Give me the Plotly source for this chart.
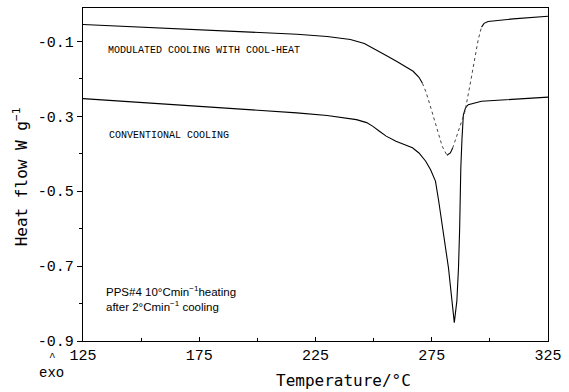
import plotly.graph_objects as go

# Modulated cooling with cool-heat (upper curve)
mod_T = [125, 150, 175, 200, 217, 230, 240, 246, 251, 256, 260, 264, 267, 269.5, 271,
         272.5, 274, 276, 278, 279.5, 281.5, 283, 284, 285, 287, 289.3, 291.5, 293.6, 295,
         296.4, 297.5, 299.2, 310, 325]
mod_Q = [-0.055, -0.062, -0.068, -0.075, -0.081, -0.087, -0.095, -0.106, -0.122, -0.140,
         -0.154, -0.168, -0.180, -0.196, -0.212, -0.235, -0.265, -0.305, -0.349, -0.380,
         -0.404, -0.398, -0.385, -0.367, -0.330, -0.287, -0.215, -0.144, -0.095, -0.062,
         -0.052, -0.047, -0.040, -0.033]

# Conventional cooling (lower curve)
conv_T = [125, 150, 175, 200, 217, 230, 242.6, 247, 249.7, 252.5, 255.4, 259.6, 263, 266.7,
          269.5, 272.4, 274.5, 276.6, 278, 280.1, 282.2, 283.7, 284.7, 285.8, 286.5, 287.0,
          287.2, 287.5, 288.0, 288.6, 289.5, 290.7, 296.4, 310, 325]
conv_Q = [-0.253, -0.263, -0.273, -0.284, -0.291, -0.298, -0.309, -0.317, -0.327, -0.340,
          -0.353, -0.367, -0.376, -0.384, -0.398, -0.420, -0.443, -0.473, -0.527, -0.616,
          -0.705, -0.793, -0.851, -0.793, -0.705, -0.600, -0.527, -0.438, -0.360, -0.296,
          -0.278, -0.269, -0.260, -0.255, -0.249]

x_ticks = [125, 175, 225, 275, 325]
x_minor = [150, 200, 250, 300]
y_ticks = [-0.1, -0.3, -0.5, -0.7, -0.9]
y_ticktext = ["-0.1", "-0.3", "-0.5", "-0.7", "-0.9"]
y_minor = [-0.2, -0.4, -0.6, -0.8]

# index ranges of the upper curve drawn dotted (sparse recording in the melt)
dotted_spans = [(14, 20), (22, 29)]
solid_spans = [(0, 14), (20, 22), (29, len(mod_T) - 1)]

fig = go.Figure()
fig.add_trace(go.Scatter(x=conv_T, y=conv_Q, mode="lines",
                         line=dict(color="black", width=1.1), showlegend=False))
for a, b in solid_spans:
    fig.add_trace(go.Scatter(x=mod_T[a:b + 1], y=mod_Q[a:b + 1], mode="lines",
                             line=dict(color="black", width=1.1), showlegend=False))
for a, b in dotted_spans:
    fig.add_trace(go.Scatter(x=mod_T[a:b + 1], y=mod_Q[a:b + 1], mode="lines",
                             line=dict(color="#444444", width=1, dash="dot"),
                             showlegend=False))

mono = "Liberation Mono"
fig.update_layout(
    width=569, height=392,
    margin=dict(l=83, r=15, t=7, b=51),
    paper_bgcolor="white", plot_bgcolor="white",
    showlegend=False,
    xaxis=dict(range=[125, 325], tickvals=x_ticks, ticks="inside", ticklen=4,
               tickcolor="black", showline=True, linecolor="black", linewidth=1.3,
               mirror=True, showgrid=False, zeroline=False,
               tickfont=dict(family=mono, size=15, color="black"),
               minor=dict(tickvals=x_minor, ticks="inside", ticklen=3, tickcolor="black")),
    yaxis=dict(range=[-0.9, -0.011], tickvals=y_ticks, ticktext=y_ticktext,
               ticks="outside", ticklen=5, tickcolor="black", showline=True,
               linecolor="black", linewidth=1.3, mirror=True, showgrid=False,
               zeroline=False, tickfont=dict(family=mono, size=15, color="black"),
               minor=dict(tickvals=y_minor, ticks="outside", ticklen=3, tickcolor="black")),
)

fig.add_annotation(text="MODULATED COOLING WITH COOL-HEAT", xref="paper", yref="paper",
                   x=(106 - 83) / 471, y=(341 - 49.7) / 334, xanchor="left", yanchor="middle",
                   showarrow=False, font=dict(family=mono, size=10, color="black"))
fig.add_annotation(text="CONVENTIONAL COOLING", xref="paper", yref="paper",
                   x=(107 - 83) / 471, y=(341 - 135) / 334, xanchor="left", yanchor="middle",
                   showarrow=False, font=dict(family=mono, size=10, color="black"))
fig.add_annotation(text="PPS#4 10°Cmin<sup>−1</sup>heating<br>after 2°Cmin<sup>−1</sup> cooling",
                   xref="paper", yref="paper", x=(104 - 83) / 471, y=(341 - 298) / 334,
                   xanchor="left", yanchor="middle", align="left", showarrow=False,
                   font=dict(family="Liberation Sans", size=11.5, color="black"))
fig.add_annotation(text="Temperature/°C", xref="paper", yref="paper",
                   x=(347 - 83) / 471, y=(341 - 381) / 334, xanchor="center", yanchor="middle",
                   showarrow=False, font=dict(family="DejaVu Sans Mono", size=16, color="black"))
fig.add_annotation(text="Heat flow W g<sup>−1</sup>", xref="paper", yref="paper",
                   x=(20 - 83) / 471, y=(341 - 176) / 334, xanchor="center", yanchor="middle",
                   textangle=-90, showarrow=False,
                   font=dict(family="DejaVu Sans Mono", size=16, color="black"))
fig.add_annotation(text="^", xref="paper", yref="paper",
                   x=(52 - 83) / 471, y=(341 - 357) / 334, xanchor="center", yanchor="middle",
                   showarrow=False, font=dict(family=mono, size=11, color="black"))
fig.add_annotation(text="exo", xref="paper", yref="paper",
                   x=(51 - 83) / 471, y=(341 - 373) / 334, xanchor="center", yanchor="middle",
                   showarrow=False, font=dict(family=mono, size=14, color="black"))

fig.write_html("out.html")
